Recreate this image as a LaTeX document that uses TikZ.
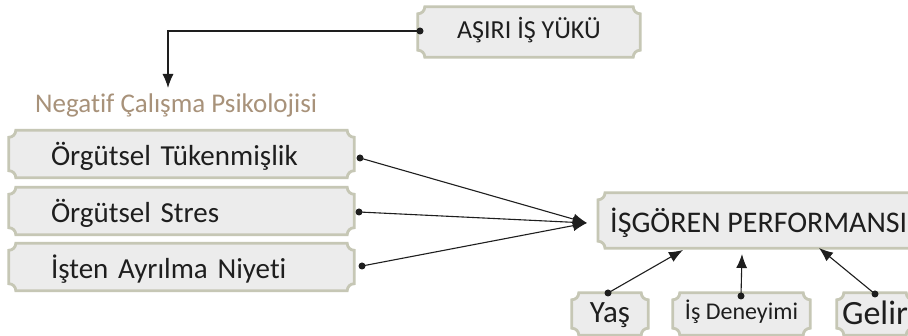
\documentclass[tikz,border=0pt]{standalone}
\usepackage{fontspec}
\setmainfont{Carlito}[Ligatures=NoCommon]
\usetikzlibrary{arrows.meta,backgrounds,calc}

\definecolor{panelfill}{HTML}{ECECEC}
\definecolor{panelrim}{HTML}{C6C7B5}
\definecolor{headbrown}{HTML}{A8927A}
\definecolor{ink}{HTML}{1E1E1E}

\tikzset{
  panel/.style={fill=panelfill,draw=panelrim,line width=2.8pt},
  boxtext/.style={inner sep=0pt,text=ink,anchor=center},
  sidebox/.style={boxtext,minimum height=47pt,text width=261pt,inner xsep=42pt,
    align=left,font=\fontsize{29}{34}\selectfont,text height=23pt,text depth=0pt},
  footbox/.style={boxtext,minimum height=42pt},
  link/.style={line width=1.1pt,draw=ink,-{Latex[length=14pt,width=11pt]}},
  joint/.style={circle,fill=ink,inner sep=0pt,minimum size=7pt},
}

% framed panel with inward-curved corners, drawn behind node #1
\newcommand\panelframe[1]{%
  \begin{scope}[on background layer]
    \path[panel] ($(#1.north west)+(7pt,0)$) -- ($(#1.north east)+(-7pt,0)$)
      arc[start angle=180,end angle=270,radius=7pt]
      -- ($(#1.south east)+(0,7pt)$)
      arc[start angle=90,end angle=180,radius=7pt]
      -- ($(#1.south west)+(7pt,0)$)
      arc[start angle=0,end angle=90,radius=7pt]
      -- ($(#1.north west)+(0,-7pt)$)
      arc[start angle=270,end angle=360,radius=7pt]
      -- cycle;
  \end{scope}}

\begin{document}
\begin{tikzpicture}[x=1pt,y=1pt]
  \useasboundingbox (0,0) rectangle (908,336);
  \begin{scope}[on background layer]
    \fill[white] (0,0) rectangle (908,336);
  \end{scope}

  % top cause
  \node[boxtext,minimum width=222pt,minimum height=50pt,
        font=\fontsize{26}{30}\selectfont,text height=13pt,text depth=0pt]
        (load) at (529,304) {AŞIRI İŞ YÜKÜ};
  \panelframe{load}

  % group heading
  \node[anchor=base west,inner sep=0pt,text=headbrown,
        font=\fontsize{27}{32}\selectfont] (head) at (35,223)
        {Negatif Çalışma Psikolojisi};

  % left factors
  \node[sidebox] (burnout) at (181.5,182) {Örgütsel Tükenmişlik};
  \node[sidebox] (stress)  at (181.5,125) {Örgütsel Stres};
  \node[sidebox] (quit)    at (181.5,69)  {İşten Ayrılma Niyeti};
  \panelframe{burnout}
  \panelframe{stress}
  \panelframe{quit}

  % outcome
  \node[boxtext,anchor=west,minimum height=55pt,inner xsep=12pt,
        font=\fontsize{30}{34}\selectfont,text height=25pt,text depth=0pt]
        (perf) at (598,115.5) {İŞGÖREN PERFORMANSI};
  \panelframe{perf}

  % control variables
  \node[footbox,minimum width=76pt,font=\fontsize{31}{34}\selectfont,
        text height=18pt,text depth=0pt] (age) at (610,22) {Yaş};
  \node[footbox,minimum width=137pt,font=\fontsize{24}{28}\selectfont,
        text height=12pt,text depth=0pt] (exp) at (741.5,22) {İş Deneyimi};
  \node[footbox,minimum width=76pt,font=\fontsize{34}{38}\selectfont,
        text height=22pt,text depth=0pt] (income) at (875,22) {Gelir};
  \panelframe{age}
  \panelframe{exp}
  \panelframe{income}

  % connector ends
  \node[joint] (jload) at (420,305) {};
  \node[joint] (jburn) at (360,178) {};
  \node[joint] (jstr)  at (359,124) {};
  \node[joint] (jquit) at (362,70)  {};
  \node[joint] (jage)  at (608,43)  {};
  \node[joint] (jexp)  at (741,40)  {};
  \node[joint] (jinc)  at (875,42)  {};
  \coordinate (headtip) at (168,248);
  \coordinate (hub)     at (587,113);
  \coordinate (tage)    at (683,86);
  \coordinate (texp)    at (742,82);
  \coordinate (tinc)    at (819,88);

  % connectors
  \draw[link] (jload.center) -| (headtip);
  \draw[link] (jburn.center) -- (hub);
  \draw[link] (jstr.center)  -- (hub);
  \draw[link] (jquit.center) -- (hub);
  \draw[link] (jage.center)  -- (tage);
  \draw[link] (jexp.center)  -- (texp);
  \draw[link] (jinc.center)  -- (tinc);
\end{tikzpicture}
\end{document}
